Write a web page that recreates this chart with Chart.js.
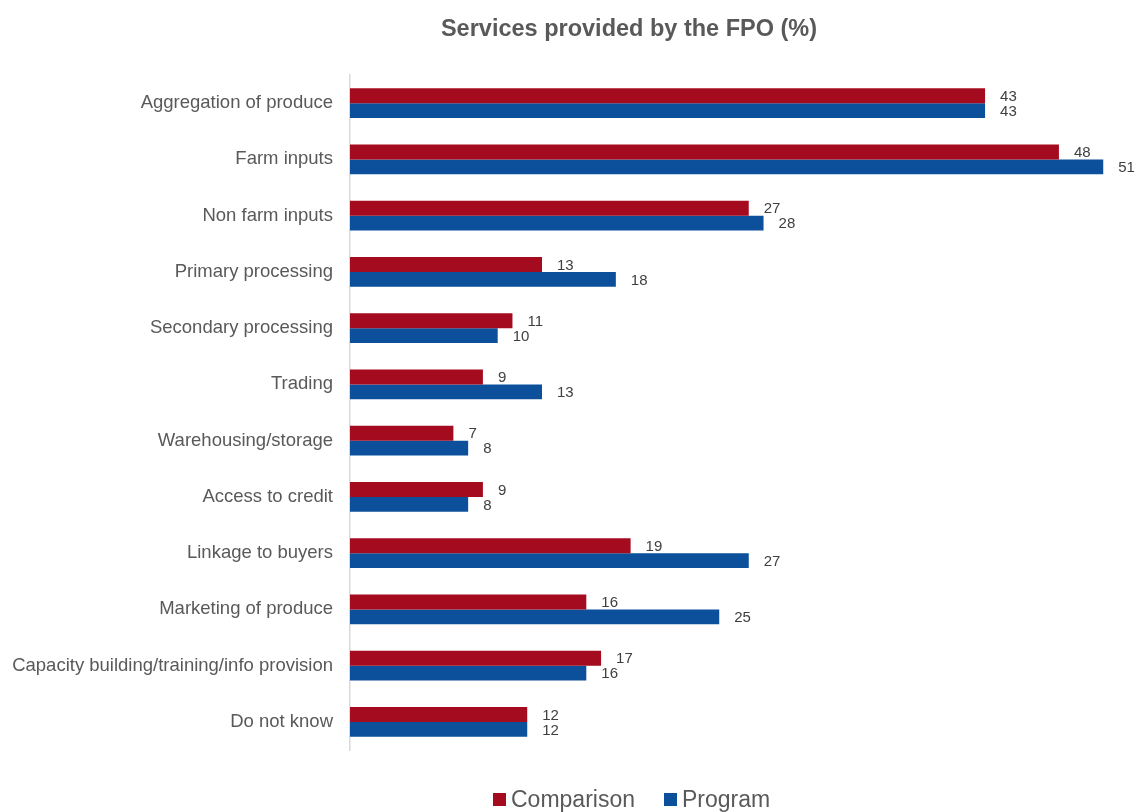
<!DOCTYPE html>
<html>
<head>
<meta charset="utf-8">
<title>Services provided by the FPO (%)</title>
<script src="https://cdn.jsdelivr.net/npm/chart.js@4"></script>
<style>
  html, body { margin: 0; padding: 0; background: #ffffff; }
  #wrap { width: 1136px; height: 812px; }
</style>
</head>
<body>
<div id="wrap"><canvas id="chart" width="1136" height="812"></canvas></div>
<script>
// ---------------------------------------------------------------------------
// Data
// ---------------------------------------------------------------------------
const categories = [
  'Aggregation of produce',
  'Farm inputs',
  'Non farm inputs',
  'Primary processing',
  'Secondary processing',
  'Trading',
  'Warehousing/storage',
  'Access to credit',
  'Linkage to buyers',
  'Marketing of produce',
  'Capacity building/training/info provision',
  'Do not know',
];
const comparisonValues = [43, 48, 27, 13, 11, 9, 7, 9, 19, 16, 17, 12];
const programValues    = [43, 51, 28, 18, 10, 13, 8, 8, 27, 25, 16, 12];
const seriesNames = ['Comparison', 'Program'];

// ---------------------------------------------------------------------------
// Design tokens
// ---------------------------------------------------------------------------
const FONT_FAMILY = "'Liberation Sans', Arial, sans-serif";
const RED  = '#a50b1f';
const BLUE = '#0c4f9a';
const TEXT_GREY = '#595959';
const LABEL_GREY = '#404040';

Chart.defaults.font.family = FONT_FAMILY;
Chart.defaults.color = TEXT_GREY;

// Value labels drawn just past the end of each bar
const valueLabels = {
  id: 'valueLabels',
  afterDatasetsDraw(chart) {
    const ctx = chart.ctx;
    ctx.save();
    ctx.font = '15px ' + FONT_FAMILY;
    ctx.fillStyle = LABEL_GREY;
    ctx.textAlign = 'left';
    ctx.textBaseline = 'middle';
    chart.data.datasets.forEach((ds, di) => {
      const meta = chart.getDatasetMeta(di);
      meta.data.forEach((bar, i) => {
        ctx.fillText(String(ds.data[i]), bar.x + 15, bar.y + 1);
      });
    });
    ctx.restore();
  },
};

// Title and legend drawn at the spots used by the original chart
const titleAndLegend = {
  id: 'titleAndLegend',
  afterDraw(chart) {
    const ctx = chart.ctx;
    ctx.save();
    ctx.fillStyle = TEXT_GREY;
    ctx.font = 'bold 23.5px ' + FONT_FAMILY;
    ctx.textAlign = 'center';
    ctx.textBaseline = 'middle';
    ctx.fillText('Services provided by the FPO (%)', 629, 30);

    ctx.font = '23px ' + FONT_FAMILY;
    ctx.textAlign = 'left';
    const colors = chart.data.datasets.map(d => d.backgroundColor);
    const boxes = [493, 664];
    seriesNames.forEach((name, i) => {
      ctx.fillStyle = colors[i];
      ctx.fillRect(boxes[i], 793, 13, 13);
      ctx.fillStyle = TEXT_GREY;
      ctx.fillText(name, boxes[i] + 18, 801);
    });
    ctx.restore();
  },
};

new Chart(document.getElementById('chart').getContext('2d'), {
  type: 'bar',
  data: {
    labels: categories,
    datasets: [
      { label: seriesNames[0], data: comparisonValues, backgroundColor: RED },
      { label: seriesNames[1], data: programValues, backgroundColor: BLUE },
    ],
  },
  options: {
    indexAxis: 'y',
    responsive: false,
    animation: false,
    categoryPercentage: 0.533,
    barPercentage: 1.0,
    layout: { padding: { top: 75, bottom: 62, left: 0, right: 18 } },
    plugins: {
      legend: { display: false },
      title: { display: false },
      tooltip: { enabled: false },
    },
    scales: {
      x: {
        display: false,
        min: 0,
        max: 52,
      },
      y: {
        afterFit(scale) { scale.width = 350; },
        grid: { display: false, drawTicks: false },
        border: { display: true, color: '#d9d9d9', width: 1.5 },
        ticks: {
          color: TEXT_GREY,
          font: { size: 18.5 },
          padding: 17,
        },
      },
    },
  },
  plugins: [valueLabels, titleAndLegend],
});
</script>
</body>
</html>
